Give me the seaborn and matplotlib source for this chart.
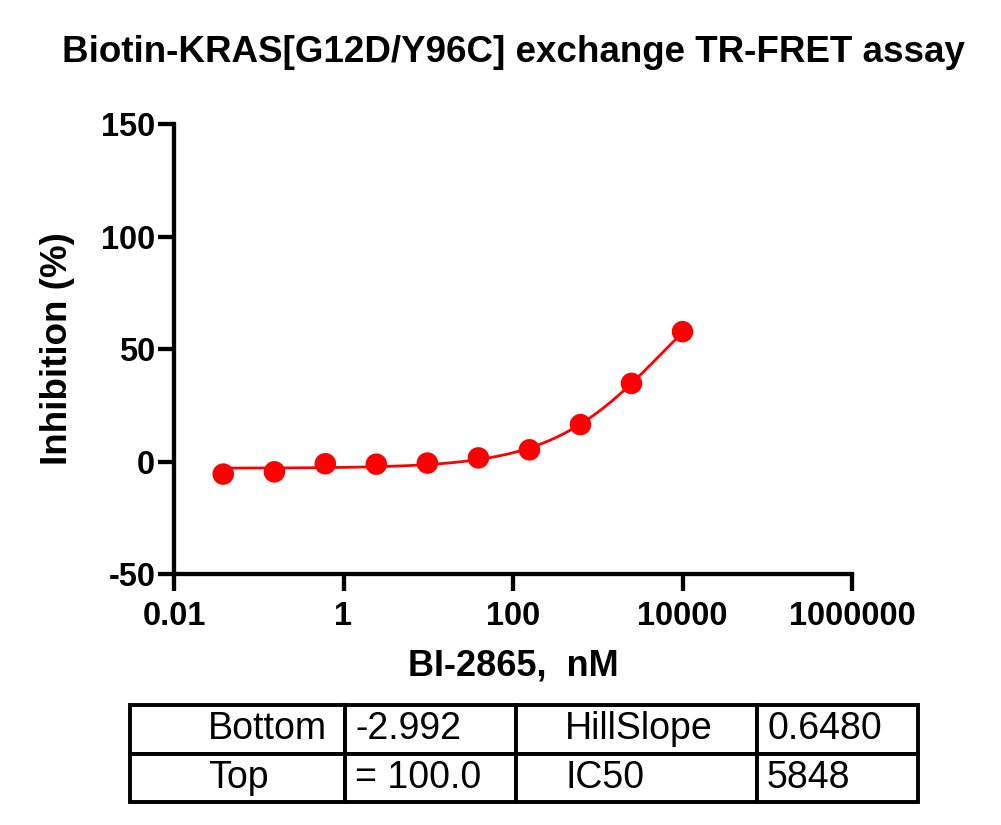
import numpy as np
import pandas as pd
import seaborn as sns
import matplotlib.pyplot as plt

# concentrations (nM) and % inhibition
conc_nm = [0.0381, 0.153, 0.610, 2.44, 9.77, 39.06, 156.25, 625, 2500, 10000]
inhibition = [-5.6, -4.6, -1.0, -1.2, -0.7, 1.6, 5.2, 16.4, 34.7, 57.7]

# fit parameters shown in the table
fit_bottom = -2.992
fit_top = 100.0
fit_hill = 0.6480
fit_ic50 = 5848

table_rows = [["Bottom", "-2.992", "HillSlope", "0.6480"],
              ["Top", "= 100.0", "IC50", "5848"]]

x_ticks = [0.01, 1, 100, 10000, 1000000]
x_tick_labels = ["0.01", "1", "100", "10000", "1000000"]
y_ticks = [-50, 0, 50, 100, 150]
y_tick_labels = ["-50", "0", "50", "100", "150"]

sns.set_style("ticks")
plt.rcParams["font.family"] = ["Liberation Sans", "DejaVu Sans"]
plt.rcParams["text.color"] = "black"
plt.rcParams["axes.labelcolor"] = "black"
plt.rcParams["xtick.color"] = "black"
plt.rcParams["ytick.color"] = "black"
plt.rcParams["axes.edgecolor"] = "black"

fig = plt.figure(figsize=(10.01, 8.25), dpi=100)
ax = fig.add_axes([174 / 1001, 1 - 574 / 825, 678 / 1001, 450 / 825])

df = pd.DataFrame({"conc": conc_nm, "inh": inhibition})

# 4PL curve from the fitted parameters
xs = np.logspace(np.log10(conc_nm[0]), np.log10(conc_nm[-1]), 200)
ys = fit_bottom + (fit_top - fit_bottom) / (1 + (fit_ic50 / xs) ** fit_hill)
curve = pd.DataFrame({"conc": xs, "inh": ys})

sns.lineplot(data=curve, x="conc", y="inh", ax=ax, color="#ff0000", lw=2)
sns.scatterplot(data=df, x="conc", y="inh", ax=ax, color="#ff0000",
                s=240, edgecolor="none", zorder=3)

ax.set_xscale("log")
ax.set_xlim(0.01, 1000000)
ax.set_ylim(-50, 150)
ax.set_xticks(x_ticks)
ax.set_xticklabels(x_tick_labels)
ax.set_yticks(y_ticks)
ax.set_yticklabels(y_tick_labels)
ax.minorticks_off()
sns.despine(ax=ax)
for s in ["left", "bottom"]:
    ax.spines[s].set_linewidth(3.1)
ax.tick_params(axis="y", length=11.5, width=3.1, labelsize=23.5, pad=2)
ax.tick_params(axis="x", length=12.5, width=3.1, labelsize=23.5, pad=7)
for lab in ax.get_xticklabels() + ax.get_yticklabels():
    lab.set_fontweight("bold")

ax.set_xlabel("BI-2865,  nM", fontsize=26, fontweight="bold")
ax.set_ylabel("Inhibition (%)", fontsize=26.5, fontweight="bold")
ax.xaxis.set_label_coords(0.5, -0.165)
ax.yaxis.set_label_coords(-0.146, 0.5)

fig.text(514 / 1001, 1 - 52 / 825, "Biotin-KRAS[G12D/Y96C] exchange TR-FRET assay",
         ha="center", va="center", fontsize=26.5, fontweight="bold")

# parameter table
tax = fig.add_axes([130 / 1001, 1 - 802 / 825, 788 / 1001, 97 / 825])
tax.axis("off")
col_px = [215, 171, 241, 161]
pads_px = [78, 10, 49, 10]
tbl = tax.table(cellText=table_rows, cellLoc="left",
                colWidths=[c / sum(col_px) for c in col_px], bbox=[0, 0, 1, 1])
tbl.auto_set_font_size(False)
for (r, c), cell in tbl.get_celld().items():
    cell.set_linewidth(2.8)
    cell.set_edgecolor("black")
    cell.PAD = pads_px[c] / col_px[c]
    cell.get_text().set_fontsize(27)
    cell.get_text().set_fontweight("normal")

fig.savefig("out.png", dpi=100)
